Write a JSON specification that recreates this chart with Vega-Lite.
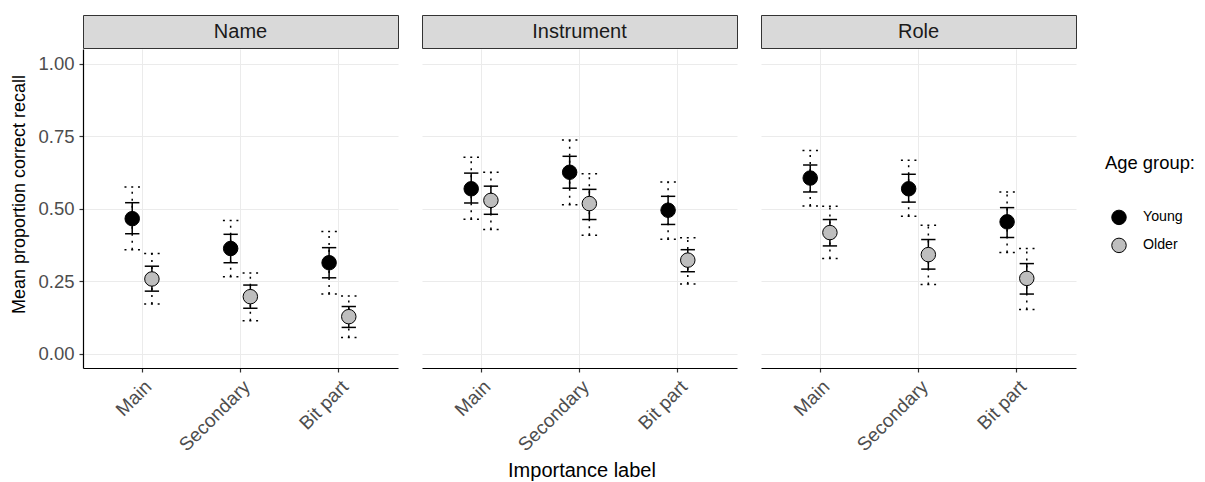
{
  "$schema": "https://vega.github.io/schema/vega-lite/v6.json",
  "background": "white",
  "padding": {"left": 10, "top": 14, "right": 5, "bottom": 5},
  "config": {
    "font": "Liberation Sans",
    "view": {"stroke": null},
    "axis": {"gridColor": "#EBEBEB", "gridWidth": 1, "domainColor": "#000000", "domainWidth": 1.2, "tickColor": "#333333", "tickSize": 4, "tickWidth": 1.2, "labelColor": "#4D4D4D", "labelFontSize": 18.5, "labelPadding": 5, "titleFontSize": 18, "titleFontWeight": "normal", "titleColor": "#000000", "titlePadding": 9},
    "axisX": {"labelFontSize": 19},
    "concat": {"spacing": 22}
  },
  "title": {"text": "Importance label", "orient": "bottom", "anchor": "middle", "fontSize": 20, "fontWeight": "normal", "color": "#000000", "offset": 6, "dx": -21},
  "datasets": {
    "strips": [{"measure": "Name"}, {"measure": "Instrument"}, {"measure": "Role"}],
    "stats": [
      {"measure": "Name", "importance": "Main", "age": "Young", "mean": 0.465, "se_lo": 0.413, "se_hi": 0.520, "ci_lo": 0.358, "ci_hi": 0.574},
      {"measure": "Name", "importance": "Main", "age": "Older", "mean": 0.257, "se_lo": 0.215, "se_hi": 0.301, "ci_lo": 0.171, "ci_hi": 0.345},
      {"measure": "Name", "importance": "Secondary", "age": "Young", "mean": 0.362, "se_lo": 0.313, "se_hi": 0.411, "ci_lo": 0.265, "ci_hi": 0.459},
      {"measure": "Name", "importance": "Secondary", "age": "Older", "mean": 0.196, "se_lo": 0.156, "se_hi": 0.236, "ci_lo": 0.113, "ci_hi": 0.278},
      {"measure": "Name", "importance": "Bit part", "age": "Young", "mean": 0.313, "se_lo": 0.261, "se_hi": 0.365, "ci_lo": 0.205, "ci_hi": 0.421},
      {"measure": "Name", "importance": "Bit part", "age": "Older", "mean": 0.127, "se_lo": 0.090, "se_hi": 0.162, "ci_lo": 0.055, "ci_hi": 0.198},
      {"measure": "Instrument", "importance": "Main", "age": "Young", "mean": 0.568, "se_lo": 0.519, "se_hi": 0.622, "ci_lo": 0.463, "ci_hi": 0.677},
      {"measure": "Instrument", "importance": "Main", "age": "Older", "mean": 0.528, "se_lo": 0.480, "se_hi": 0.577, "ci_lo": 0.428, "ci_hi": 0.625},
      {"measure": "Instrument", "importance": "Secondary", "age": "Young", "mean": 0.625, "se_lo": 0.570, "se_hi": 0.680, "ci_lo": 0.513, "ci_hi": 0.736},
      {"measure": "Instrument", "importance": "Secondary", "age": "Older", "mean": 0.517, "se_lo": 0.462, "se_hi": 0.566, "ci_lo": 0.408, "ci_hi": 0.620},
      {"measure": "Instrument", "importance": "Bit part", "age": "Young", "mean": 0.494, "se_lo": 0.445, "se_hi": 0.542, "ci_lo": 0.394, "ci_hi": 0.591},
      {"measure": "Instrument", "importance": "Bit part", "age": "Older", "mean": 0.322, "se_lo": 0.282, "se_hi": 0.358, "ci_lo": 0.240, "ci_hi": 0.399},
      {"measure": "Role", "importance": "Main", "age": "Young", "mean": 0.605, "se_lo": 0.557, "se_hi": 0.650, "ci_lo": 0.509, "ci_hi": 0.700},
      {"measure": "Role", "importance": "Main", "age": "Older", "mean": 0.417, "se_lo": 0.371, "se_hi": 0.462, "ci_lo": 0.328, "ci_hi": 0.508},
      {"measure": "Role", "importance": "Secondary", "age": "Young", "mean": 0.568, "se_lo": 0.522, "se_hi": 0.618, "ci_lo": 0.473, "ci_hi": 0.666},
      {"measure": "Role", "importance": "Secondary", "age": "Older", "mean": 0.341, "se_lo": 0.291, "se_hi": 0.393, "ci_lo": 0.238, "ci_hi": 0.442},
      {"measure": "Role", "importance": "Bit part", "age": "Young", "mean": 0.454, "se_lo": 0.400, "se_hi": 0.503, "ci_lo": 0.348, "ci_hi": 0.557},
      {"measure": "Role", "importance": "Bit part", "age": "Older", "mean": 0.259, "se_lo": 0.205, "se_hi": 0.310, "ci_lo": 0.152, "ci_hi": 0.362}
    ]
  },
  "hconcat": [
    {
      "spacing": 0,
      "vconcat": [
        {
          "data": {"name": "strips"},
          "transform": [{"filter": "datum.measure === 'Name'"}],
          "width": 315, "height": 33,
          "view": {"fill": "#D9D9D9", "stroke": "#333333", "strokeWidth": 1},
          "mark": {"type": "text", "fontSize": 20, "color": "#1A1A1A", "baseline": "middle", "align": "center"},
          "encoding": {"text": {"field": "measure"}}
        },
        {
          "data": {"name": "stats"},
          "transform": [{"filter": "datum.measure === 'Name'"}],
          "width": 315, "height": 319,
          "encoding": {
            "x": {"field": "importance", "type": "nominal", "sort": ["Main", "Secondary", "Bit part"], "scale": {"type": "band", "paddingInner": 0.6, "paddingOuter": 0.4}, "axis": {"title": null, "labelAngle": -45, "grid": true, "bandPosition": 0.5}},
            "xOffset": {"field": "age", "type": "nominal", "sort": ["Young", "Older"]}
          },
          "layer": [
            {"mark": {"type": "rule", "strokeDash": [2, 5], "strokeWidth": 1.5, "color": "#000000"},
             "encoding": {"y": {"field": "ci_lo", "type": "quantitative", "scale": {"domain": [-0.05, 1.05], "nice": false, "zero": false}, "axis": {"title": "Mean proportion correct recall", "titleY": 145, "values": [0, 0.25, 0.5, 0.75, 1], "format": ".2f"}}, "y2": {"field": "ci_hi"}}},
            {"transform": [{"fold": ["ci_lo", "ci_hi"], "as": ["bound", "value"]}],
             "mark": {"type": "point", "shape": "stroke", "size": 240, "strokeDash": [2, 4.75], "strokeWidth": 1.5, "color": "#000000", "opacity": 1},
             "encoding": {"y": {"field": "value", "type": "quantitative", "scale": {"domain": [-0.05, 1.05], "nice": false, "zero": false}, "axis": {"title": "Mean proportion correct recall", "titleY": 145, "values": [0, 0.25, 0.5, 0.75, 1], "format": ".2f"}}}},
            {"mark": {"type": "rule", "strokeWidth": 1.5, "color": "#000000"},
             "encoding": {"y": {"field": "se_lo", "type": "quantitative", "scale": {"domain": [-0.05, 1.05], "nice": false, "zero": false}, "axis": {"title": "Mean proportion correct recall", "titleY": 145, "values": [0, 0.25, 0.5, 0.75, 1], "format": ".2f"}}, "y2": {"field": "se_hi"}}},
            {"transform": [{"fold": ["se_lo", "se_hi"], "as": ["bound", "value"]}],
             "mark": {"type": "point", "shape": "stroke", "size": 205, "strokeWidth": 1.5, "color": "#000000", "opacity": 1},
             "encoding": {"y": {"field": "value", "type": "quantitative", "scale": {"domain": [-0.05, 1.05], "nice": false, "zero": false}, "axis": {"title": "Mean proportion correct recall", "titleY": 145, "values": [0, 0.25, 0.5, 0.75, 1], "format": ".2f"}}}},
            {"mark": {"type": "point", "shape": "circle", "filled": true, "size": 210, "stroke": "#000000", "strokeWidth": 1, "opacity": 1},
             "encoding": {"y": {"field": "mean", "type": "quantitative", "scale": {"domain": [-0.05, 1.05], "nice": false, "zero": false}, "axis": {"title": "Mean proportion correct recall", "titleY": 145, "values": [0, 0.25, 0.5, 0.75, 1], "format": ".2f"}},
               "fill": {"field": "age", "type": "nominal", "scale": {"domain": ["Young", "Older"], "range": ["#000000", "#BEBEBE"]},
                 "legend": {"title": "Age group:", "orient": "none", "legendX": 1022, "legendY": 139, "titleFontSize": 18.4, "titleFontWeight": "normal", "titleColor": "#000000", "titlePadding": 37, "labelFontSize": 14.2, "labelColor": "#000000", "labelOffset": 16, "symbolOffset": 6, "symbolType": "circle", "symbolSize": 210, "symbolStrokeColor": "#000000", "symbolStrokeWidth": 1, "rowPadding": 8}}}}
          ]
        }
      ]
    },
    {
      "spacing": 0,
      "vconcat": [
        {
          "data": {"name": "strips"},
          "transform": [{"filter": "datum.measure === 'Instrument'"}],
          "width": 315, "height": 33,
          "view": {"fill": "#D9D9D9", "stroke": "#333333", "strokeWidth": 1},
          "mark": {"type": "text", "fontSize": 20, "color": "#1A1A1A", "baseline": "middle", "align": "center"},
          "encoding": {"text": {"field": "measure"}}
        },
        {
          "data": {"name": "stats"},
          "transform": [{"filter": "datum.measure === 'Instrument'"}],
          "width": 315, "height": 319,
          "encoding": {
            "x": {"field": "importance", "type": "nominal", "sort": ["Main", "Secondary", "Bit part"], "scale": {"type": "band", "paddingInner": 0.6, "paddingOuter": 0.4}, "axis": {"title": null, "labelAngle": -45, "grid": true, "bandPosition": 0.5}},
            "xOffset": {"field": "age", "type": "nominal", "sort": ["Young", "Older"]}
          },
          "layer": [
            {"mark": {"type": "rule", "strokeDash": [2, 5], "strokeWidth": 1.5, "color": "#000000"},
             "encoding": {"y": {"field": "ci_lo", "type": "quantitative", "scale": {"domain": [-0.05, 1.05], "nice": false, "zero": false}, "axis": {"title": null, "values": [0, 0.25, 0.5, 0.75, 1], "labels": false, "ticks": false, "domain": false}}, "y2": {"field": "ci_hi"}}},
            {"transform": [{"fold": ["ci_lo", "ci_hi"], "as": ["bound", "value"]}],
             "mark": {"type": "point", "shape": "stroke", "size": 240, "strokeDash": [2, 4.75], "strokeWidth": 1.5, "color": "#000000", "opacity": 1},
             "encoding": {"y": {"field": "value", "type": "quantitative", "scale": {"domain": [-0.05, 1.05], "nice": false, "zero": false}, "axis": {"title": null, "values": [0, 0.25, 0.5, 0.75, 1], "labels": false, "ticks": false, "domain": false}}}},
            {"mark": {"type": "rule", "strokeWidth": 1.5, "color": "#000000"},
             "encoding": {"y": {"field": "se_lo", "type": "quantitative", "scale": {"domain": [-0.05, 1.05], "nice": false, "zero": false}, "axis": {"title": null, "values": [0, 0.25, 0.5, 0.75, 1], "labels": false, "ticks": false, "domain": false}}, "y2": {"field": "se_hi"}}},
            {"transform": [{"fold": ["se_lo", "se_hi"], "as": ["bound", "value"]}],
             "mark": {"type": "point", "shape": "stroke", "size": 205, "strokeWidth": 1.5, "color": "#000000", "opacity": 1},
             "encoding": {"y": {"field": "value", "type": "quantitative", "scale": {"domain": [-0.05, 1.05], "nice": false, "zero": false}, "axis": {"title": null, "values": [0, 0.25, 0.5, 0.75, 1], "labels": false, "ticks": false, "domain": false}}}},
            {"mark": {"type": "point", "shape": "circle", "filled": true, "size": 210, "stroke": "#000000", "strokeWidth": 1, "opacity": 1},
             "encoding": {"y": {"field": "mean", "type": "quantitative", "scale": {"domain": [-0.05, 1.05], "nice": false, "zero": false}, "axis": {"title": null, "values": [0, 0.25, 0.5, 0.75, 1], "labels": false, "ticks": false, "domain": false}},
               "fill": {"field": "age", "type": "nominal", "scale": {"domain": ["Young", "Older"], "range": ["#000000", "#BEBEBE"]}}}}
          ]
        }
      ]
    },
    {
      "spacing": 0,
      "vconcat": [
        {
          "data": {"name": "strips"},
          "transform": [{"filter": "datum.measure === 'Role'"}],
          "width": 315, "height": 33,
          "view": {"fill": "#D9D9D9", "stroke": "#333333", "strokeWidth": 1},
          "mark": {"type": "text", "fontSize": 20, "color": "#1A1A1A", "baseline": "middle", "align": "center"},
          "encoding": {"text": {"field": "measure"}}
        },
        {
          "data": {"name": "stats"},
          "transform": [{"filter": "datum.measure === 'Role'"}],
          "width": 315, "height": 319,
          "encoding": {
            "x": {"field": "importance", "type": "nominal", "sort": ["Main", "Secondary", "Bit part"], "scale": {"type": "band", "paddingInner": 0.6, "paddingOuter": 0.4}, "axis": {"title": null, "labelAngle": -45, "grid": true, "bandPosition": 0.5}},
            "xOffset": {"field": "age", "type": "nominal", "sort": ["Young", "Older"]}
          },
          "layer": [
            {"mark": {"type": "rule", "strokeDash": [2, 5], "strokeWidth": 1.5, "color": "#000000"},
             "encoding": {"y": {"field": "ci_lo", "type": "quantitative", "scale": {"domain": [-0.05, 1.05], "nice": false, "zero": false}, "axis": {"title": null, "values": [0, 0.25, 0.5, 0.75, 1], "labels": false, "ticks": false, "domain": false}}, "y2": {"field": "ci_hi"}}},
            {"transform": [{"fold": ["ci_lo", "ci_hi"], "as": ["bound", "value"]}],
             "mark": {"type": "point", "shape": "stroke", "size": 240, "strokeDash": [2, 4.75], "strokeWidth": 1.5, "color": "#000000", "opacity": 1},
             "encoding": {"y": {"field": "value", "type": "quantitative", "scale": {"domain": [-0.05, 1.05], "nice": false, "zero": false}, "axis": {"title": null, "values": [0, 0.25, 0.5, 0.75, 1], "labels": false, "ticks": false, "domain": false}}}},
            {"mark": {"type": "rule", "strokeWidth": 1.5, "color": "#000000"},
             "encoding": {"y": {"field": "se_lo", "type": "quantitative", "scale": {"domain": [-0.05, 1.05], "nice": false, "zero": false}, "axis": {"title": null, "values": [0, 0.25, 0.5, 0.75, 1], "labels": false, "ticks": false, "domain": false}}, "y2": {"field": "se_hi"}}},
            {"transform": [{"fold": ["se_lo", "se_hi"], "as": ["bound", "value"]}],
             "mark": {"type": "point", "shape": "stroke", "size": 205, "strokeWidth": 1.5, "color": "#000000", "opacity": 1},
             "encoding": {"y": {"field": "value", "type": "quantitative", "scale": {"domain": [-0.05, 1.05], "nice": false, "zero": false}, "axis": {"title": null, "values": [0, 0.25, 0.5, 0.75, 1], "labels": false, "ticks": false, "domain": false}}}},
            {"mark": {"type": "point", "shape": "circle", "filled": true, "size": 210, "stroke": "#000000", "strokeWidth": 1, "opacity": 1},
             "encoding": {"y": {"field": "mean", "type": "quantitative", "scale": {"domain": [-0.05, 1.05], "nice": false, "zero": false}, "axis": {"title": null, "values": [0, 0.25, 0.5, 0.75, 1], "labels": false, "ticks": false, "domain": false}},
               "fill": {"field": "age", "type": "nominal", "scale": {"domain": ["Young", "Older"], "range": ["#000000", "#BEBEBE"]}}}}
          ]
        }
      ]
    }
  ]
}
